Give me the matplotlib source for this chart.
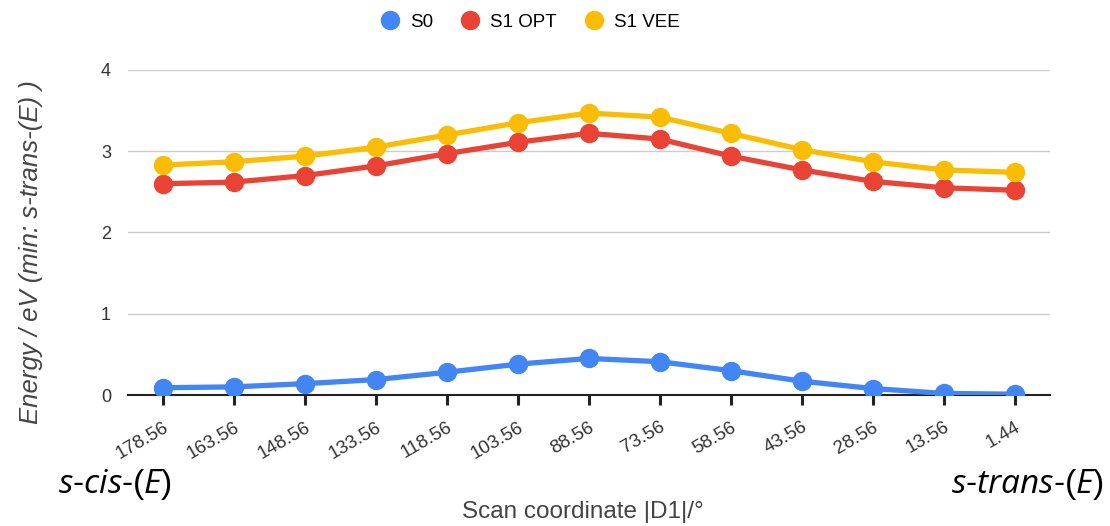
import matplotlib
matplotlib.use('Agg')
import matplotlib.pyplot as plt
from matplotlib.transforms import ScaledTranslation

plt.rcParams['font.family'] = ['Liberation Sans', 'DejaVu Sans']
plt.rcParams['mathtext.fontset'] = 'custom'
plt.rcParams['mathtext.rm'] = 'Open Sans'
plt.rcParams['mathtext.it'] = 'Open Sans:italic'

# Scan coordinate labels (degrees)
angles = ['178.56', '163.56', '148.56', '133.56', '118.56', '103.56', '88.56',
          '73.56', '58.56', '43.56', '28.56', '13.56', '1.44']

# Energies in eV
s0 = [0.09, 0.10, 0.14, 0.19, 0.28, 0.38, 0.45, 0.41, 0.30, 0.17, 0.08, 0.02, 0.01]
s1_opt = [2.60, 2.62, 2.70, 2.82, 2.97, 3.11, 3.22, 3.15, 2.94, 2.77, 2.63, 2.55, 2.52]
s1_vee = [2.83, 2.87, 2.94, 3.05, 3.20, 3.35, 3.47, 3.42, 3.22, 3.02, 2.87, 2.77, 2.74]

series = [('S0', s0, '#4285F4'), ('S1 OPT', s1_opt, '#EA4335'), ('S1 VEE', s1_vee, '#FBBC04')]

fig = plt.figure(figsize=(11.1, 5.26), dpi=100)
ax = fig.add_axes([0.115, 0.249, 0.831, 0.618])

x = list(range(len(angles)))
handles = []
for name, vals, col in series:
    ax.plot(x, vals, color=col, lw=3.8, solid_joinstyle='round', solid_capstyle='round', zorder=3)
    ax.plot(x, vals, 'o', color=col, ms=14, mec='none', zorder=4)
    h, = ax.plot([], [], 'o', color=col, ms=14, mec='none', label=name)
    handles.append(h)

ax.set_xlim(-0.5, 12.5)
ax.set_ylim(0, 4)
ax.set_yticks([0, 1, 2, 3, 4])
ax.set_xticks(x)
ax.set_xticklabels(angles, rotation=30, ha='right', va='top', rotation_mode='anchor',
                   fontsize=13.5, color='#333333')
offset = ScaledTranslation(7 / 72, 0, fig.dpi_scale_trans)
for lbl in ax.get_xticklabels():
    lbl.set_transform(lbl.get_transform() + offset)
ax.tick_params(axis='y', length=0, pad=12, labelsize=13, labelcolor='#333333')
ax.tick_params(axis='x', length=7, width=2.2, color='#222222', pad=10)
ax.grid(axis='y', color='#cccccc', lw=1)
ax.set_axisbelow(True)
for s in ['top', 'right', 'left']:
    ax.spines[s].set_visible(False)
ax.spines['bottom'].set_color('#222222')
ax.spines['bottom'].set_linewidth(1.5)

ax.set_ylabel('Energy / eV (min: s-trans-(E) )', fontsize=18.5, style='italic',
              color='#444444', va='center')
ax.yaxis.set_label_coords(-0.105, 0.44)
ax.set_xlabel('Scan coordinate |D1|/°', fontsize=17.5, color='#444444', va='center')
ax.xaxis.set_label_coords(0.493, -0.36)

fig.legend(handles=handles, loc='center', bbox_to_anchor=(0.4775, 0.958), ncol=3,
           frameon=False, fontsize=13.5, handlelength=1.0, handletextpad=0.57,
           columnspacing=1.47)

fig.text(0.052, 0.078, r'$\it{s}$-$\it{cis}$-($\it{E}$)', fontsize=24, ha='left', va='center')
fig.text(0.994, 0.078, r'$\it{s}$-$\it{trans}$-($\it{E}$)', fontsize=24, ha='right', va='center')

fig.savefig('out.png', dpi=100)
